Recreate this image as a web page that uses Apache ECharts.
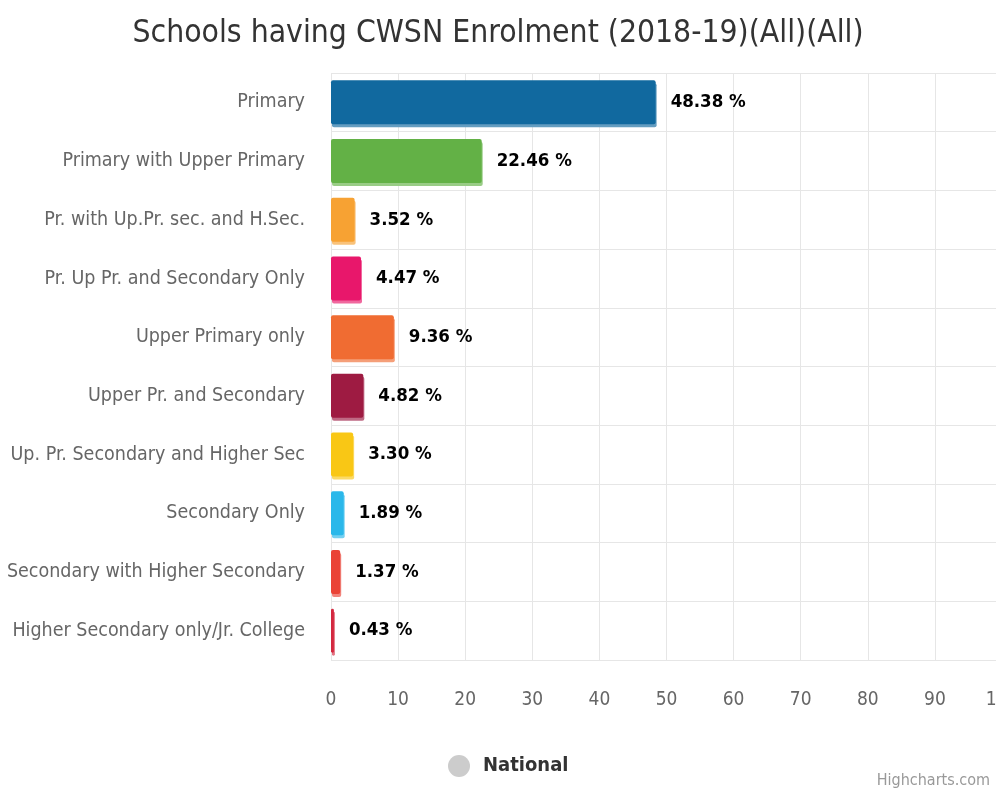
<!DOCTYPE html>
<html>
<head>
<meta charset="utf-8">
<script src="https://cdn.jsdelivr.net/npm/echarts@6/dist/echarts.min.js"></script>
<style>
html, body { margin: 0; padding: 0; background: #fff; }
#chart { width: 996px; height: 789px; }
</style>
</head>
<body>
<div id="chart"></div>
<script>
const categories = [
    "Primary",
    "Primary with Upper Primary",
    "Pr. with Up.Pr. sec. and H.Sec.",
    "Pr. Up Pr. and Secondary Only",
    "Upper Primary only",
    "Upper Pr. and Secondary",
    "Up. Pr. Secondary and Higher Sec",
    "Secondary Only",
    "Secondary with Higher Secondary",
    "Higher Secondary only/Jr. College"
]
const values = [ 48.38, 22.46, 3.52, 4.47, 9.36, 4.82, 3.30, 1.89, 1.37, 0.43 ]
const colors = [ "#11699f", "#63b146", "#f7a233", "#e8176b", "#f06c32", "#9e1b42", "#f9c715", "#2bb8ea", "#ea4336", "#d4283f" ]
const xTicks = [ 0, 100, 10 ] // min, max, interval

const font = "DejaVu Sans Condensed"
const chart = echarts.init(document.getElementById("chart"))

let data = []
for (let i = 0; i < values.length; i++) {
    data.push({
        value: values[i],
        itemStyle: {
            color: colors[i],
            borderRadius: 2,
            shadowColor: echarts.color.lift(colors[i], 0.35),
            shadowOffsetY: 3,
            shadowOffsetX: 1,
            shadowBlur: 0,
        },
    })
}

chart.setOption({
    animation: false,
    title: {
        text: "Schools having CWSN Enrolment (2018-19)(All)(All)",
        left: "center",
        top: 13,
        textStyle: { fontFamily: font, fontSize: 31.6, fontWeight: "normal", color: "#333" },
    },
    grid: { left: 331, right: -6, top: 73, bottom: 129, outerBoundsMode: "none", containLabel: false },
    legend: {
        bottom: 7,
        left: 443,
        icon: "circle",
        itemWidth: 22,
        itemHeight: 22,
        data: [{ name: "National", itemStyle: { color: "#cccccc" }}],
        textStyle: { fontFamily: font, fontSize: 20, fontWeight: "bold", color: "#333", padding: [0, 0, 0, 8] },
    },
    graphic: [{
        type: "text",
        right: 6,
        bottom: 0,
        style: { text: "Highcharts.com", fontFamily: font, fontSize: 16, fill: "#999" },
    }],
    xAxis: {
        type: "value",
        min: xTicks[0],
        max: xTicks[1],
        interval: xTicks[2],
        axisLine: { show: false },
        axisTick: { show: false },
        axisLabel: { margin: 31, fontFamily: font, fontSize: 19, color: "#666" },
        splitLine: { lineStyle: { color: "#e6e6e6", width: 1 }},
    },
    yAxis: {
        type: "category",
        data: categories,
        inverse: true,
        axisLine: { show: false },
        axisTick: { show: false },
        axisLabel: { margin: 26, fontFamily: font, fontSize: 19.5, color: "#666" },
        splitLine: { show: true, lineStyle: { color: "#e6e6e6", width: 1 }},
    },
    series: [{
        name: "National",
        type: "bar",
        barWidth: 44,
        itemStyle: { color: "#cccccc" },
        label: {
            show: true,
            position: "right",
            distance: 15,
            formatter: p => p.value.toFixed(2) + " %",
            fontFamily: font,
            fontSize: 18.5,
            fontWeight: "bold",
            color: "#000",
        },
        data: data,
    }],
})
</script>
</body>
</html>
